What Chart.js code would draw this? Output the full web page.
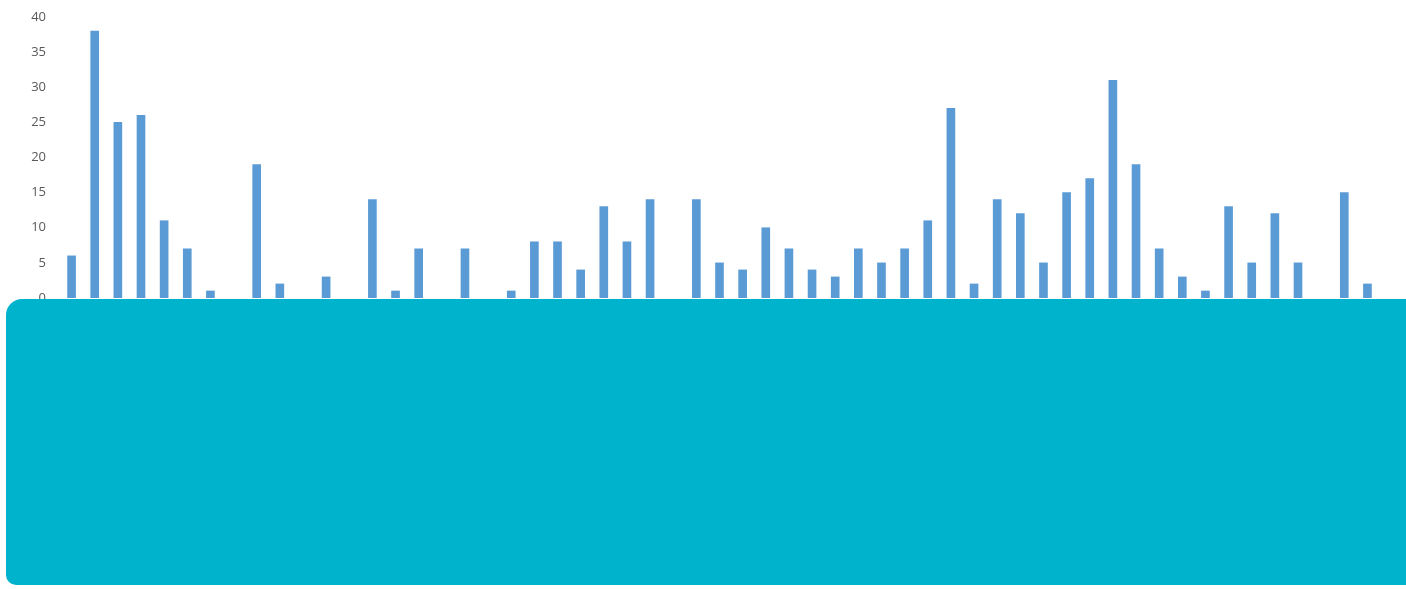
<!DOCTYPE html>
<html>
<head>
<meta charset="utf-8">
<script src="https://cdn.jsdelivr.net/npm/chart.js@4/dist/chart.umd.min.js"></script>
<style>
  body { margin: 0; background: #FFFFFF; }
  #wrap { position: relative; width: 1406px; height: 589px; overflow: hidden; }
  /* cyan scribble that hides the lower half of the original */
  #cover {
    position: absolute; left: 6px; top: 299px; width: 1400px; height: 286px;
    background: #00B3CC; border-radius: 16px 0 0 10px;
  }
</style>
</head>
<body>
<div id="wrap">
  <canvas id="barChart" width="1406" height="589"></canvas>
  <div id="cover"></div>
</div>
<script>
// Categories (labels hidden under the cover)
const categories = ['1', '2', '3', '4', '5', '6', '7', '8', '9', '10',
  '11', '12', '13', '14', '15', '16', '17', '18', '19', '20',
  '21', '22', '23', '24', '25', '26', '27', '28', '29', '30',
  '31', '32', '33', '34', '35', '36', '37', '38', '39', '40',
  '41', '42', '43', '44', '45', '46', '47', '48', '49', '50',
  '51', '52', '53', '54', '55', '56', '57'];

// Bar values
const values = [6, 38, 25, 26, 11, 7, 1, 0, 19, 2,
  0, 3, 0, 14, 1, 7, 0, 7, 0, 1,
  8, 8, 4, 13, 8, 14, 0, 14, 5, 4,
  10, 7, 4, 3, 7, 5, 7, 11, 27, 2,
  14, 12, 5, 15, 17, 31, 19, 7, 3, 1,
  13, 5, 12, 5, 0, 15, 2];

// Y axis tick labels
const yTicks = [0, 5, 10, 15, 20, 25, 30, 35, 40];

const ctx = document.getElementById('barChart').getContext('2d');
new Chart(ctx, {
  type: 'bar',
  data: {
    labels: categories,
    datasets: [{
      data: values,
      // zero bars draw nothing in Excel
      backgroundColor: values.map(v => v === 0 ? 'rgba(0,0,0,0)' : '#5B9BD5'),
      borderWidth: 0,
      barThickness: 8
    }]
  },
  options: {
    responsive: false,
    animation: false,
    layout: { padding: { left: 30, right: 27, top: 17, bottom: 291 } },
    plugins: { legend: { display: false }, tooltip: { enabled: false } },
    scales: {
      x: { display: false },
      y: {
        min: yTicks[0],
        max: yTicks[yTicks.length - 1],
        afterBuildTicks: scale => { scale.ticks = yTicks.map(v => ({ value: v })); },
        afterFit: scale => {
          scale.width = 30;
          // let the top label hang over the plot edge like Excel
          scale.paddingTop = 0;
          scale.paddingBottom = 0;
        },
        grid: { display: false, drawTicks: false, tickLength: 0 },
        border: { display: false },
        ticks: {
          padding: 14,
          color: '#595959',
          font: { family: 'Open Sans', size: 13 }
        }
      }
    }
  }
});
</script>
</body>
</html>
